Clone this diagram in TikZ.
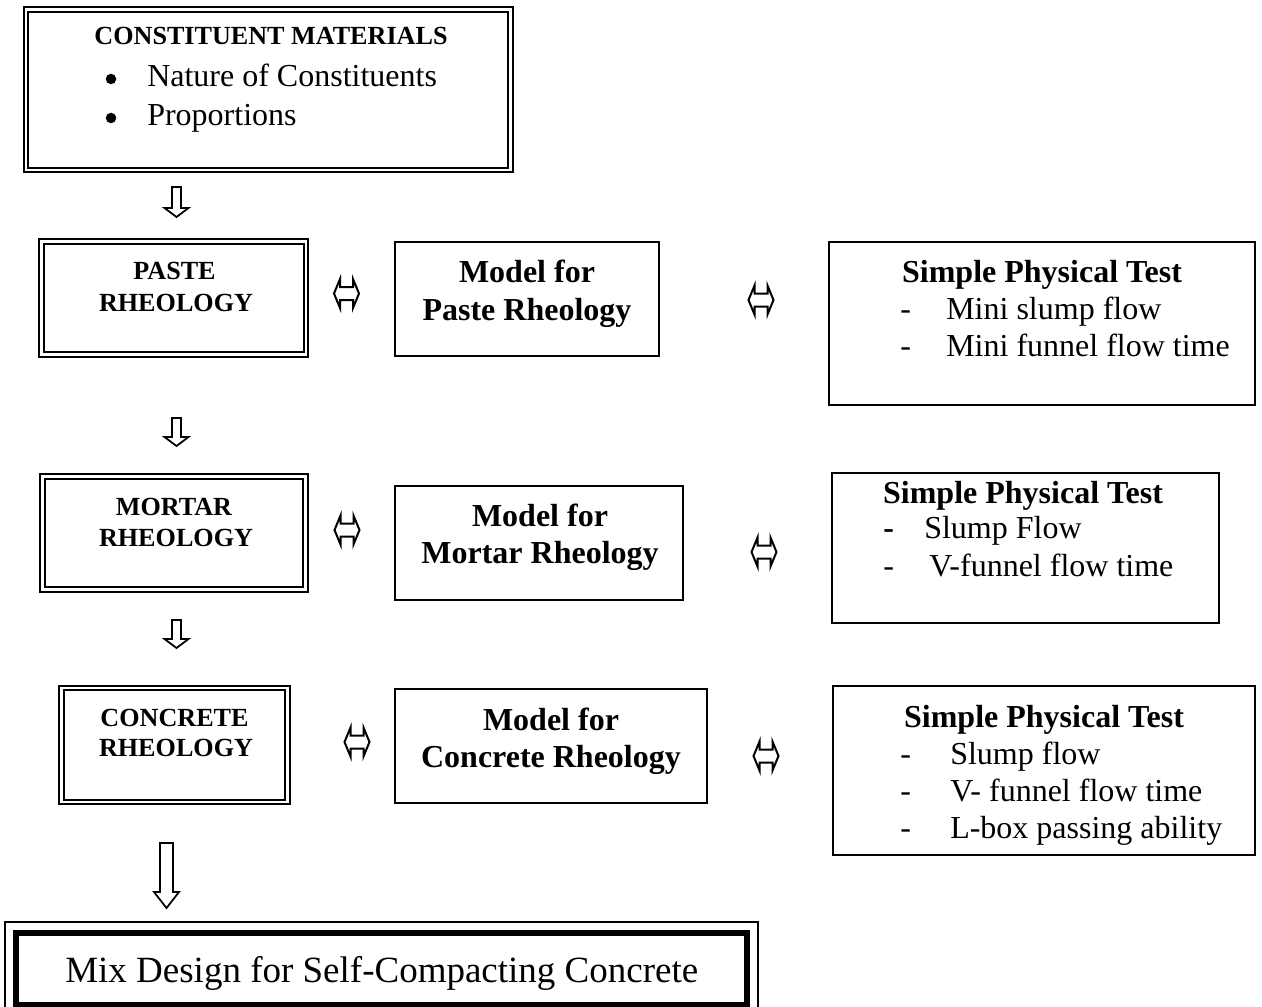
\documentclass[tikz,border=0pt]{standalone}
\usepackage{fontspec}
\setmainfont{Liberation Serif}
\usetikzlibrary{fit,calc}
\begin{document}
\begin{tikzpicture}[x=0.75pt,y=-0.75pt,
  dblbox/.style={draw, double, line width=1.5pt, double distance=1.9pt, inner sep=0pt},
  onebox/.style={draw, line width=1.5pt, inner sep=0pt},
  headtext/.style={font=\fontsize{19.6pt}{23pt}\selectfont\bfseries, inner sep=0pt, anchor=base},
  bodytext/.style={font=\fontsize{24pt}{28pt}\selectfont, inner sep=0pt, anchor=base west},
  boldtext/.style={font=\fontsize{24pt}{28pt}\selectfont\bfseries, inner sep=0pt, anchor=base},
  bigtext/.style={font=\fontsize{27.75pt}{32pt}\selectfont, inner sep=0pt, anchor=base west},
  bulletdot/.style={circle, fill, inner sep=0pt, minimum size=7.9pt},
  lrarrow/.pic={\draw[line width=1.5pt, line join=miter]
     (-12.5,0) -- (-6.5,-14.5) -- (-6.5,-6.5) -- (6.5,-6.5) -- (6.5,-14.5) -- (12.5,0)
     -- (6.5,14.5) -- (6.5,6.5) -- (-6.5,6.5) -- (-6.5,14.5) -- cycle;},
  pics/dnarrow/.style n args={4}{code={\draw[line width=1.3pt, line join=miter]
     (-#3,0) -- (-#3,#1) -- (-#4,#1) -- (0,{#1+#2}) -- (#4,#1) -- (#3,#1) -- (#3,0) -- cycle;}}
]
\useasboundingbox (0,0) rectangle (1262,1006);

% constituent materials
\node[dblbox, fit={(26,9.5) (510.5,170)}] (const) {};
\node[headtext] (constT) at (271,45) {CONSTITUENT MATERIALS};
\node[bulletdot] (b1) at (111,79) {};
\node[bulletdot] (b2) at (111,118) {};
\node[bodytext] (constI1) at (147,86) {Nature of Constituents};
\node[bodytext] (constI2) at (147,125) {Proportions};

% left column: rheology levels
\node[dblbox, fit={(41.5,241.5) (306,354.5)}] (paste) {};
\node[headtext] (pasteT1) at (174.5,279) {PASTE};
\node[headtext] (pasteT2) at (176,311) {RHEOLOGY};

\node[dblbox, fit={(42.5,476.5) (305.5,589.5)}] (mortar) {};
\node[headtext] (mortarT1) at (174,515) {MORTAR};
\node[headtext] (mortarT2) at (176,546) {RHEOLOGY};

\node[dblbox, fit={(61.5,688) (287.5,802)}] (concrete) {};
\node[headtext] (concreteT1) at (174.5,726) {CONCRETE};
\node[headtext] (concreteT2) at (176,756) {RHEOLOGY};

% middle column: models
\node[onebox, fit={(395,242) (659,356)}] (modP) {};
\node[boldtext] (modPT1) at (527,282) {Model for};
\node[boldtext] (modPT2) at (527,320) {Paste Rheology};

\node[onebox, fit={(395,486) (683,600)}] (modM) {};
\node[boldtext] (modMT1) at (540,526) {Model for};
\node[boldtext] (modMT2) at (540,563) {Mortar Rheology};

\node[onebox, fit={(395,689) (707,803)}] (modC) {};
\node[boldtext] (modCT1) at (551,730) {Model for};
\node[boldtext] (modCT2) at (551,767) {Concrete Rheology};

% right column: simple physical tests
\node[onebox, fit={(829,242) (1255,405)}] (testP) {};
\node[boldtext] (testPT) at (1042,282) {Simple Physical Test};
\node[bodytext] (testPd1) at (900,319) {-};
\node[bodytext] (testPi1) at (946,319) {Mini slump flow};
\node[bodytext] (testPd2) at (900,356) {-};
\node[bodytext] (testPi2) at (946,356) {Mini funnel flow time};

\node[onebox, fit={(832,473) (1219,623)}] (testM) {};
\node[boldtext] (testMT) at (1023,503) {Simple Physical Test};
\node[bodytext, font=\fontsize{24pt}{28pt}\selectfont\bfseries] (testMd1) at (883,538) {-};
\node[bodytext] (testMi1) at (924,538) {Slump Flow};
\node[bodytext] (testMd2) at (883,576) {-};
\node[bodytext] (testMi2) at (929,576) {V-funnel flow time};

\node[onebox, fit={(833,686) (1255,855)}] (testC) {};
\node[boldtext] (testCT) at (1044,727) {Simple Physical Test};
\node[bodytext] (testCd1) at (900,764) {-};
\node[bodytext] (testCi1) at (950,764) {Slump flow};
\node[bodytext] (testCd2) at (900,801) {-};
\node[bodytext] (testCi2) at (950,801) {V- funnel flow time};
\node[bodytext] (testCd3) at (900,838) {-};
\node[bodytext] (testCi3) at (950,838) {L-box passing ability};

% final result box: thick inner frame with thin outer frame
\node[draw, line width=4.95pt, inner sep=0pt, fit={(16,933) (747,1005)}] (mix) {};
\draw[line width=1.3pt] ($(mix.north west)+(-7.7,-7.7)$) rectangle ($(mix.south east)+(7.7,7.7)$);
\node[bigtext] (mixT) at (65,982) {Mix Design for Self-Compacting Concrete};

% hollow block arrows
\pic at (176.5,187) {dnarrow={21}{9}{4.5}{12}};
\pic at (176.5,418) {dnarrow={19}{9}{4.5}{12}};
\pic at (176.5,620) {dnarrow={19}{9}{4.5}{12}};
\pic at (166.5,843) {dnarrow={49}{16}{6.5}{12.5}};

\pic at (346.5,293.5) {lrarrow};
\pic at (761,300) {lrarrow};
\pic at (347,530) {lrarrow};
\pic at (764,552) {lrarrow};
\pic at (357,742) {lrarrow};
\pic at (766,756) {lrarrow};
\end{tikzpicture}
\end{document}
